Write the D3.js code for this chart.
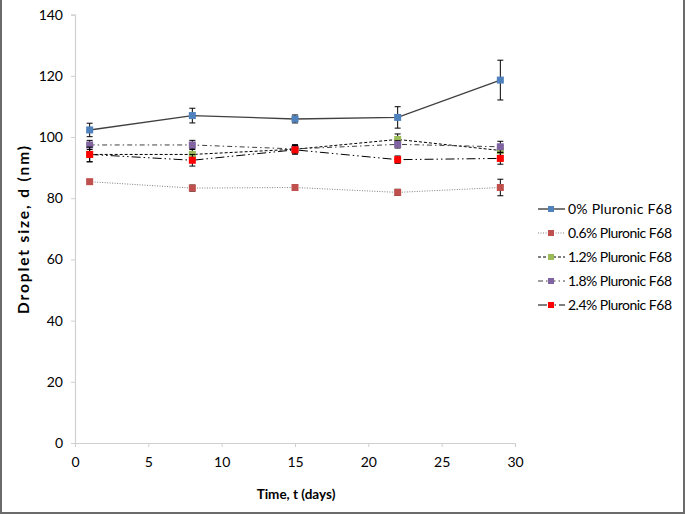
<!DOCTYPE html>
<html><head><meta charset="utf-8">
<script src="https://cdn.jsdelivr.net/npm/d3@7/dist/d3.min.js"></script>
<style>body{margin:0;background:#fff}svg{display:block}</style>
</head><body>
<script>
const days = [1, 8, 15, 22, 29];
const seriesNames = ["0% Pluronic F68","0.6% Pluronic F68","1.2% Pluronic F68","1.8% Pluronic F68","2.4% Pluronic F68"];
const s0  = [102.3, 107.0, 105.9, 106.4, 118.6];
const e0  = [2.2, 2.4, 1.3, 3.5, 6.5];
const s06 = [85.4, 83.3, 83.5, 81.9, 83.5];
const e06 = [0.5, 1.0, 0.6, 1.0, 2.7];
const s12 = [94.3, 94.3, 96.0, 99.2, 95.6];
const e12 = [2.4, 2.0, 1.5, 1.8, 1.6];
const s18 = [97.4, 97.4, 96.1, 97.6, 96.8];
const e18 = [1.5, 1.5, 1.2, 1.2, 1.8];
const s24 = [94.3, 92.4, 95.8, 92.6, 93.0];
const e24 = [2.4, 1.9, 1.4, 1.2, 1.9];
const xTicks = [0,5,10,15,20,25,30];
const yTicks = [0,20,40,60,80,100,120,140];

const W = 685, H = 514;
const svg = d3.select("body").append("svg").attr("width", W).attr("height", H);
const font = "Lato, 'Open Sans', sans-serif";

const x = d3.scaleLinear().domain([0,30]).range([75,515]);
const y = d3.scaleLinear().domain([0,140]).range([443,14.6]);

// border
svg.append("path").attr("d", `M1,0 V${H-1} H${W-1} V0`).attr("fill","none").attr("stroke","#6b6b6b").attr("stroke-width",2);

// axes
const gx = svg.append("g").attr("transform","translate(0,443)")
  .call(d3.axisBottom(x).tickValues(xTicks).tickSize(4).tickPadding(10));
const gy = svg.append("g").attr("transform","translate(75,0)")
  .call(d3.axisLeft(y).tickValues(yTicks).tickSize(4).tickPadding(8));
[gx, gy].forEach(g => {
  g.select(".domain").attr("stroke","#d0d0d0").attr("stroke-width",1.2);
  g.selectAll(".tick line").attr("stroke","#d0d0d0");
  g.selectAll("text").attr("font-family",font).attr("font-size",14).attr("fill","#000");
});

svg.append("text").attr("x",296).attr("y",499).attr("text-anchor","middle")
  .attr("font-family",font).attr("font-weight","bold").attr("font-size",13.5).text("Time, t (days)");
svg.append("text").attr("transform","translate(29,230) rotate(-90)").attr("text-anchor","middle")
  .attr("font-family",font).attr("font-weight","bold").attr("font-size",15.5)
  .attr("textLength",168).attr("lengthAdjust","spacing").text("Droplet size, d (nm)");

const series = [
  {name: seriesNames[0], v: s0,  e: e0,  stroke:"#404040", dash:null,            w:1.4, fill:"#4F81BD"},
  {name: seriesNames[1], v: s06, e: e06, stroke:"#7f7f7f", dash:"1,1.5",          w:1.0, fill:"#C0504D"},
  {name: seriesNames[2], v: s12, e: e12, stroke:"#000",    dash:"3,2",            w:1.0, fill:"#9BBB59"},
  {name: seriesNames[3], v: s18, e: e18, stroke:"#404040", dash:"5,3,1.5,3",      w:1.0, fill:"#8064A2"},
  {name: seriesNames[4], v: s24, e: e24, stroke:"#000",    dash:"9,3,1.5,3,1.5,3",w:1.0, fill:"#FF0000"}
];

const line = d3.line().x(d => x(d[0])).y(d => y(d[1]));
series.forEach(s => {
  const pts = days.map((d,i) => [d, s.v[i], s.e[i]]);
  svg.append("path").datum(pts).attr("d", line).attr("fill","none")
    .attr("stroke", s.stroke).attr("stroke-width", s.w).attr("stroke-dasharray", s.dash);
});
series.forEach(s => {
  const pts = days.map((d,i) => [d, s.v[i], s.e[i]]);
  const g = svg.append("g");
  pts.forEach(p => {
    const cx = x(p[0]), y1 = y(p[1]+p[2]), y2 = y(p[1]-p[2]);
    g.append("line").attr("x1",cx).attr("x2",cx).attr("y1",y1).attr("y2",y2).attr("stroke","#000").attr("stroke-width",1);
    g.append("line").attr("x1",cx-3).attr("x2",cx+3).attr("y1",y1).attr("y2",y1).attr("stroke","#000").attr("stroke-width",1);
    g.append("line").attr("x1",cx-3).attr("x2",cx+3).attr("y1",y2).attr("y2",y2).attr("stroke","#000").attr("stroke-width",1);
  });
  g.selectAll("rect").data(pts).join("rect")
    .attr("x", d => x(d[0]) - 3.5).attr("y", d => y(d[1]) - 3.5)
    .attr("width",7).attr("height",7).attr("fill", s.fill);
});

// legend
const lg = svg.append("g");
series.forEach((s,i) => {
  const ly = 209 + i*24;
  lg.append("line").attr("x1",538).attr("x2",565).attr("y1",ly).attr("y2",ly)
    .attr("stroke",s.stroke).attr("stroke-width",s.w).attr("stroke-dasharray",s.dash);
  lg.append("rect").attr("x",548).attr("y",ly-3).attr("width",6).attr("height",6).attr("fill",s.fill);
  lg.append("text").attr("x",568).attr("y",ly+5).attr("font-family",font).attr("font-size",14)
    .attr("textLength",104).attr("lengthAdjust","spacing").text(s.name);
});
</script>
</body></html>
